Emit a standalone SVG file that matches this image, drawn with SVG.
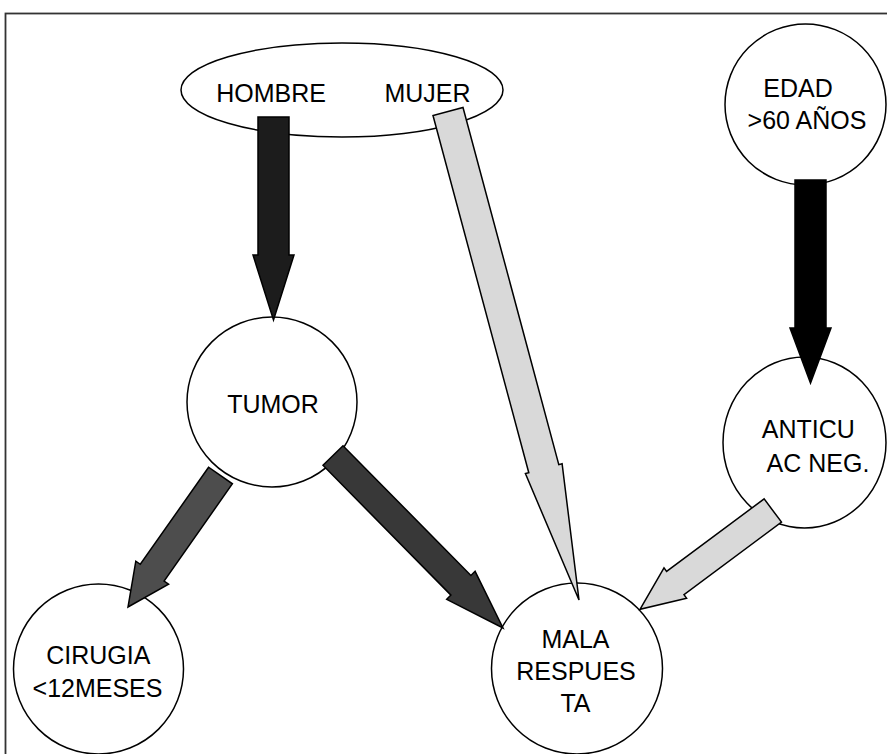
<svg xmlns="http://www.w3.org/2000/svg" width="887" height="754" viewBox="0 0 887 754">
<style>
.node{fill:#ffffff;stroke:#000000;stroke-width:1.5}
.lbl{font-family:"Liberation Sans",Arial,sans-serif;font-size:25px;fill:#000000;text-anchor:middle}
.arr{stroke:#000000;stroke-width:1.5;stroke-linejoin:miter}
.a-black{fill:#000000}
.a-vdark{fill:#1c1c1c}
.a-dark{fill:#383838}
.a-mid{fill:#4d4d4d}
.a-light{fill:#d9d9d9}
</style>
<rect x="0" y="0" width="887" height="754" fill="#ffffff"/>
<rect id="frame" x="5.5" y="13.5" width="920" height="800" fill="none" stroke="#333333" stroke-width="1.8"/>
<g id="node-sexo">
<ellipse class="node" cx="342" cy="90" rx="161" ry="47"/>
<text class="lbl" x="271" y="102">HOMBRE</text>
<text class="lbl" x="427.5" y="102">MUJER</text>
</g>
<g id="node-edad">
<circle class="node" cx="805.5" cy="104.5" r="80.5"/>
<text class="lbl" x="798" y="97">EDAD</text>
<text class="lbl" x="807" y="129">&gt;60 AÑOS</text>
</g>
<g id="node-tumor">
<circle class="node" cx="272" cy="402" r="85"/>
<text class="lbl" x="273" y="413">TUMOR</text>
</g>
<g id="node-anticu">
<ellipse class="node" cx="804.5" cy="442.5" rx="81.5" ry="85.5"/>
<text class="lbl" x="808.3" y="438">ANTICU</text>
<text class="lbl" x="818" y="472">AC NEG.</text>
</g>
<g id="node-cirugia">
<circle class="node" cx="98.5" cy="669" r="85"/>
<text class="lbl" x="98.3" y="664">CIRUGIA</text>
<text class="lbl" x="97.5" y="697">&lt;12MESES</text>
</g>
<g id="node-mala">
<circle class="node" cx="577" cy="668.5" r="85.5"/>
<text class="lbl" x="575.5" y="648">MALA</text>
<text class="lbl" x="576" y="680">RESPUES</text>
<text class="lbl" x="575.5" y="712">TA</text>
</g>
<g id="connectors">
<polygon id="e-hombre-tumor" class="arr a-vdark" points="258,117 289,117 289,255 294,255 273.5,320 253,255 258,255"/>
<polygon id="e-edad-anticu" class="arr a-black" points="795,180 826,180 826,328 831,328 810.5,383 790,328 795,328"/>
<polygon id="e-tumor-cirugia" class="arr a-mid" points="208.6,467.2 140.3,564.3 135.8,561.2 128,607 168.6,584.2 164.1,581 232.4,483.8"/>
<polygon id="e-tumor-mala" class="arr a-dark" points="323,465.3 450.9,595.1 446.7,599.3 503,628 475.1,571.3 470.9,575.5 343,445.7"/>
<polygon id="e-mujer-mala" class="arr a-light" points="433,115.5 528.8,472.7 525.4,473.6 579,600 562.1,463.7 558.8,464.6 463,107.5"/>
<polygon id="e-anticu-mala" class="arr a-light" points="764.1,498.9 666.6,571.4 664,567.8 640,609.3 686.6,598.3 684,594.6 781.5,522.1"/>
</g>
</svg>
